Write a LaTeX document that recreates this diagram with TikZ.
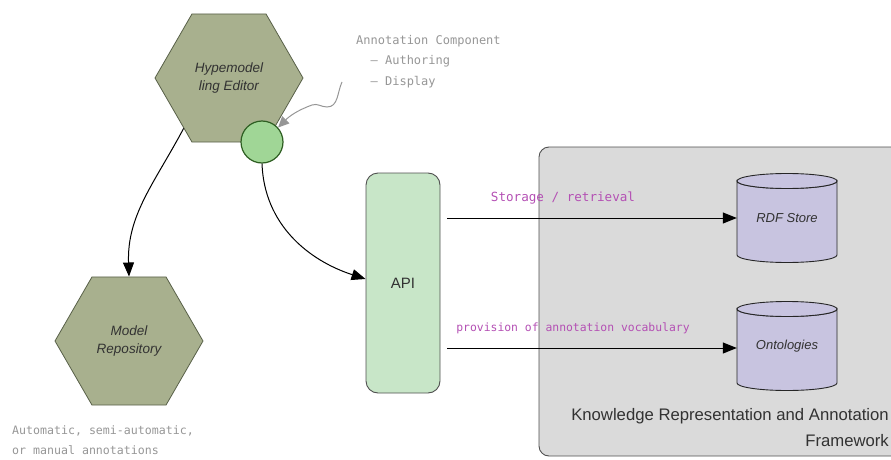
\documentclass[tikz,border=0pt]{standalone}
\usepackage{fontspec}
\setmainfont{Liberation Sans}
\newfontfamily\handfont{DejaVu Sans Mono}
\usetikzlibrary{shapes.geometric,arrows.meta}

\definecolor{hexfill}{RGB}{168,176,142}
\definecolor{hexline}{RGB}{88,96,72}
\definecolor{compfill}{RGB}{160,214,150}
\definecolor{compline}{RGB}{46,94,34}
\definecolor{apifill}{RGB}{200,230,200}
\definecolor{boxfill}{RGB}{218,218,218}
\definecolor{cylfill}{RGB}{200,196,224}
\definecolor{edgegrey}{RGB}{80,80,80}
\definecolor{notegrey}{RGB}{150,150,150}
\definecolor{labelpurple}{RGB}{180,80,180}
\definecolor{textgrey}{RGB}{50,50,50}

% cylinder outline centred at (#1,#2): body first, top ellipse over it
\newcommand\cylshape[2]{%
  \path[cylbody] (#1-50,#2+37) -- (#1-50,#2-37)
    arc[start angle=180, end angle=360, x radius=50pt, y radius=7.5pt]
    -- (#1+50,#2+37)
    arc[start angle=0, end angle=-180, x radius=50pt, y radius=7.5pt] -- cycle;
  \path[cylbody] (#1,#2+37) ellipse[x radius=50pt, y radius=7.5pt];
}

\begin{document}
\begin{tikzpicture}[x=1pt,y=1pt,
  hexnode/.style={regular polygon, regular polygon sides=6, minimum size=148pt,
    inner sep=0pt, fill=hexfill, draw=hexline, line width=0.8pt, text=textgrey,
    font=\fontsize{13.5}{18}\selectfont\itshape, align=center},
  compnode/.style={circle, minimum size=42pt, inner sep=0pt, fill=compfill,
    draw=compline, line width=1.2pt},
  apinode/.style={rectangle, rounded corners=12pt, minimum width=74pt,
    minimum height=220pt, fill=apifill, draw=edgegrey, line width=0.9pt,
    text=textgrey, font=\fontsize{15}{18}\selectfont},
  frame/.style={rectangle, rounded corners=10pt, minimum width=366pt,
    minimum height=309pt, fill=boxfill, draw=edgegrey, line width=0.9pt},
  cylbody/.style={fill=cylfill, draw=black!85, line width=0.9pt},
  cyltext/.style={rectangle, minimum width=100pt, minimum height=88pt,
    inner sep=0pt, text=textgrey, font=\fontsize{13}{16}\selectfont\itshape},
  flow/.style={-{Triangle[length=14pt,width=11pt]}, line width=1pt, black},
  notearrow/.style={-{Triangle[length=11pt,width=10pt]}, line width=1pt, notegrey},
  hand/.style={text=notegrey, inner sep=0pt},
  edgelabel/.style={text=labelpurple, inner sep=0pt},
  frametext/.style={inner sep=0pt, text=textgrey, font=\fontsize{16.7}{22}\selectfont}
]
\path[use as bounding box] (0,0) rectangle (891,459);
\clip (0,0) rectangle (891,459);

% framework container
\node[frame] (kraf) at (722,157.5) {};
\node[frametext, anchor=base east] (kr1) at (889,39) {Knowledge Representation and Annotation};
\node[frametext, anchor=base east] (kr2) at (889,13) {Framework};

% storage cylinders
\cylshape{787}{241}
\node[cyltext] (rdf) at (787,241) {RDF Store};
\cylshape{787}{113}
\node[cyltext] (ont) at (787,113) {Ontologies};

% editor, annotation component, repository
\node[hexnode] (edit) at (229,381) {Hypemodel\\ling Editor};
\node[hexnode] (mrep) at (129,118) {Model\\Repository};
\node[compnode] (comp) at (262,317) {};

% API
\node[apinode] (api) at (403,176) {API};

% connectors
\draw[flow] (edit.228) to[out=242,in=92] (mrep.north);
\draw[flow] (comp.south) to[out=-88,in=162] ([yshift=4pt]api.west);

\coordinate (s1) at (447,241);
\coordinate (s2) at (447,111);
\draw[flow] (s1) -- (s1 -| rdf.west);
\draw[flow] (s2) -- (s2 -| ont.west);
\node[edgelabel, font=\handfont\fontsize{12.6}{15}\selectfont] (lab1) at (563,261) {Storage / retrieval};
\node[edgelabel, font=\handfont\fontsize{11.4}{15}\selectfont] (lab2) at (573,131) {provision of annotation vocabulary};

% notes
\node[hand, anchor=north west, align=left, font=\handfont\fontsize{12}{20.5}\selectfont] (note1) at (356,424)
  {Annotation Component\\\ \ – Authoring\\\ \ – Display};
\coordinate (ns) at (342,377);
\draw[notearrow] (ns) to[out=245,in=0] (327,352) to[out=180,in=20] (312,354)
  to[out=200,in=45] (comp.42);

\node[hand, anchor=north west, align=left, font=\handfont\fontsize{11.6}{20}\selectfont] (note2) at (12,34)
  {Automatic, semi-automatic,\\or manual annotations};
\end{tikzpicture}
\end{document}
